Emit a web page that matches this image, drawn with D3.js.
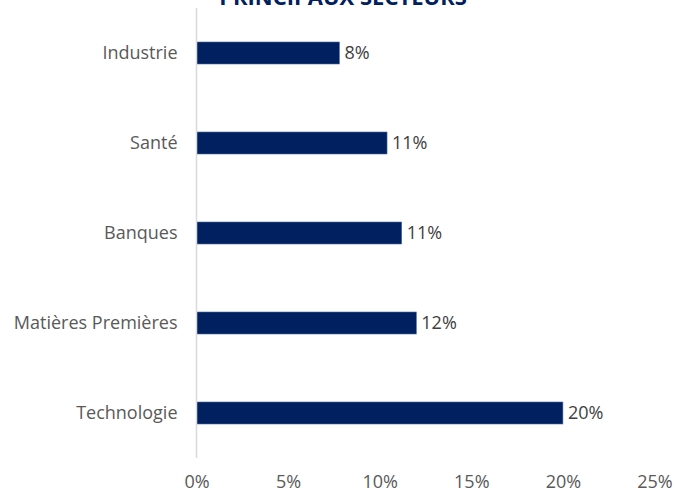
<!DOCTYPE html>
<html>
<head>
<meta charset="utf-8">
<script src="https://cdn.jsdelivr.net/npm/d3@7"></script>
<style>
  body { margin: 0; background: #fff; }
  svg { display: block; }
  text { font-family: "Open Sans", "Noto Sans", sans-serif; }
</style>
</head>
<body>
<div id="chart"></div>
<script>
// data
var sectors = ["Industrie", "Santé", "Banques", "Matières Premières", "Technologie"]
var weights = [7.8, 10.4, 11.2, 12.0, 20.0]
var labels = ["8%", "11%", "11%", "12%", "20%"]
var ticks = [0, 5, 10, 15, 20, 25]
var title = "PRINCIPAUX SECTEURS"

var width = 675,
    height = 493,
    margin = { top: 8, right: 20, bottom: 35, left: 196.5 };

var svg = d3.select("#chart").append("svg")
    .attr("width", width)
    .attr("height", height);

var x = d3.scaleLinear()
    .domain([0, 25])
    .range([margin.left, 654.5]);

var y = d3.scaleBand()
    .domain(sectors)
    .range([margin.top, height - margin.bottom])
    .paddingInner(0.76)
    .paddingOuter(0.38);

// title, cut off at the top like the original
svg.append("text")
    .attr("x", 343)
    .attr("y", 5)
    .attr("text-anchor", "middle")
    .style("font-size", "22px")
    .style("font-weight", "bold")
    .style("fill", "#002060")
    .text(title);

// bars
svg.selectAll(".bar")
    .data(sectors)
    .enter().append("rect")
    .attr("class", "bar")
    .attr("x", x(0))
    .attr("y", function(d) { return y(d) + y.bandwidth() / 2 - 11; })
    .attr("width", function(d, i) { return x(weights[i]) - x(0); })
    .attr("height", 22)
    .style("fill", "#002060")
    .style("stroke", "#4a6aa0")
    .style("stroke-width", 0.6);

// vertical axis line
svg.append("line")
    .attr("x1", x(0))
    .attr("x2", x(0))
    .attr("y1", margin.top)
    .attr("y2", height - margin.bottom)
    .style("stroke", "#d9d9d9")
    .style("stroke-width", 1.5);

// category labels
svg.selectAll(".cat")
    .data(sectors)
    .enter().append("text")
    .attr("class", "cat")
    .attr("x", x(0) - 19)
    .attr("y", function(d) { return y(d) + y.bandwidth() / 2; })
    .attr("dy", "0.35em")
    .attr("text-anchor", "end")
    .style("font-size", "18px")
    .style("fill", "#595959")
    .text(function(d) { return d; });

// value labels
svg.selectAll(".val")
    .data(sectors)
    .enter().append("text")
    .attr("class", "val")
    .attr("x", function(d, i) { return x(weights[i]) + 5; })
    .attr("y", function(d) { return y(d) + y.bandwidth() / 2; })
    .attr("dy", "0.35em")
    .style("font-size", "18px")
    .style("fill", "#404040")
    .text(function(d, i) { return labels[i]; });

// x axis, labels only
var xAxis = svg.append("g")
    .attr("transform", "translate(0," + (height - 22) + ")")
    .call(d3.axisBottom(x).tickValues(ticks).tickSize(0).tickFormat(function(d) { return d + "%"; }));

xAxis.select(".domain").remove();
xAxis.selectAll("text")
    .attr("dy", "0.75em")
    .style("font-family", "'Open Sans', 'Noto Sans', sans-serif")
    .style("font-size", "18px")
    .style("fill", "#595959");
</script>
</body>
</html>
